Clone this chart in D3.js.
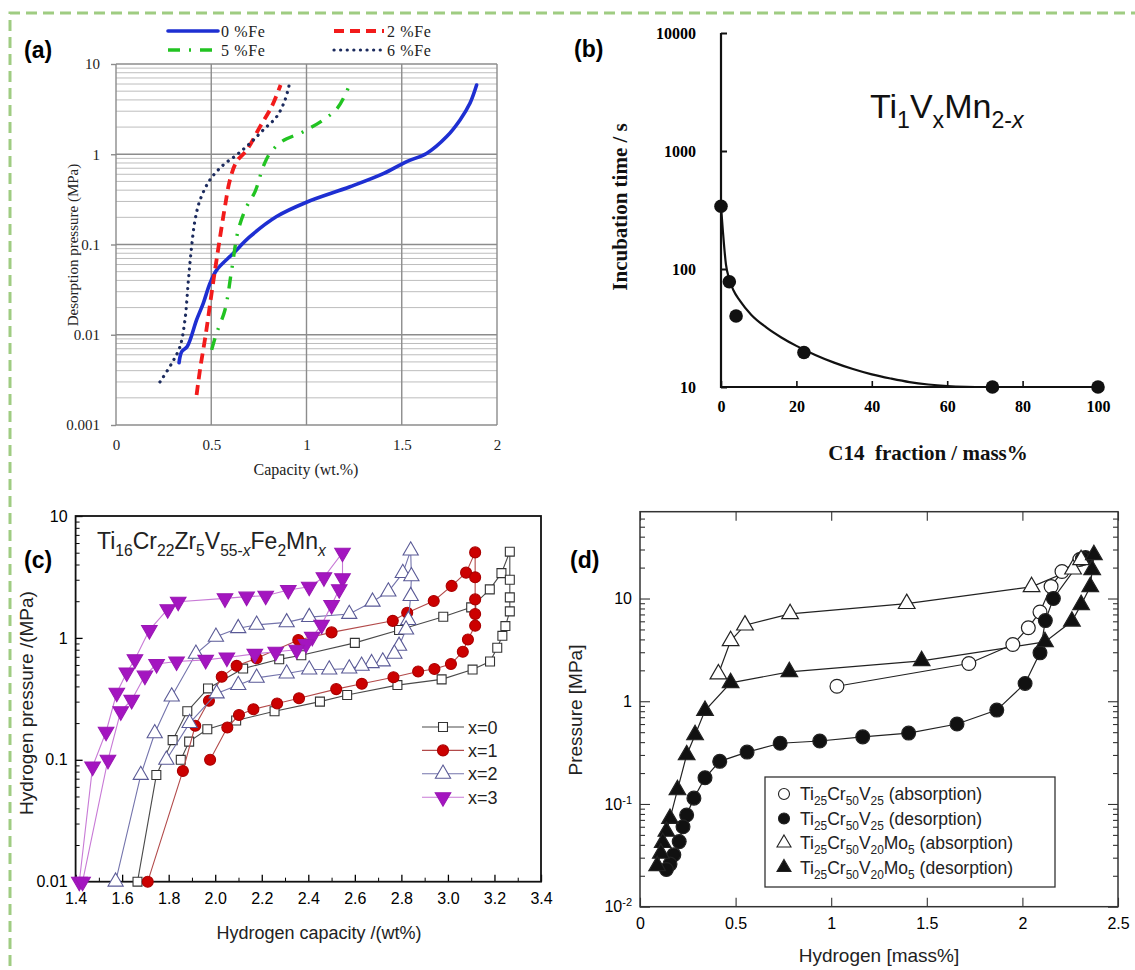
<html>
<head>
<meta charset="utf-8">
<script src="https://cdn.jsdelivr.net/npm/d3@7"></script>
<style>
  body { margin: 0; background: #fff; }
</style>
</head>
<body>
<script>
// ---------- (a) desorption curves vs Fe content ----------
const aNames = ['0 %Fe', '2 %Fe', '5 %Fe', '6 %Fe'];
const aXTicks = [0, 0.5, 1, 1.5, 2];
const aYTicks = [0.001, 0.01, 0.1, 1, 10];
const fe0 = [[0.331,0.0049],[0.345,0.0065],[0.374,0.0074],[0.423,0.0146],[0.458,0.0223],[0.493,0.037],
  [0.528,0.052],[0.616,0.080],[0.703,0.122],[0.843,0.204],[1.0,0.294],[1.228,0.436],[1.403,0.61],
  [1.526,0.83],[1.63,1.02],[1.736,1.57],[1.806,2.4],[1.858,3.67],[1.893,5.85]];
const fe2 = [[0.423,0.00215],[0.441,0.0041],[0.472,0.0104],[0.502,0.029],[0.528,0.068],[0.555,0.159],
  [0.572,0.263],[0.598,0.52],[0.633,0.83],[0.686,1.11],[0.756,2.02],[0.817,3.36],[0.864,5.85]];
const fe5 = [[0.502,0.0068],[0.528,0.0104],[0.572,0.0188],[0.607,0.052],[0.642,0.145],[0.686,0.263],
  [0.730,0.385],[0.773,0.73],[0.808,1.02],[0.869,1.38],[0.983,1.78],[1.088,2.4],[1.158,3.16],
  [1.202,4.5],[1.225,5.85]];
const fe6 = [[0.231,0.0030],[0.292,0.0048],[0.336,0.0074],[0.362,0.0146],[0.380,0.040],[0.397,0.095],
  [0.415,0.187],[0.441,0.31],[0.493,0.52],[0.563,0.76],[0.633,0.98],[0.703,1.32],[0.773,1.86],
  [0.843,2.6],[0.887,3.98],[0.909,5.85]];

// ---------- (b) incubation time ----------
const bXTicks = [0, 20, 40, 60, 80, 100];
const bYTicks = [10, 100, 1000, 10000];
const bPoints = [[0,340],[2.2,78],[4,40],[22,19.6],[72,10],[100,10]];
const bFit = [[0,340],[0.5,210],[1.3,110],[2.2,82],[3.3,66],[5,54],[8,41],[12,32],[16,26.3],[20,22.3],
  [25,18.7],[30,16.1],[35,14.2],[40,12.8],[45,11.8],[50,11.0],[55,10.5],[60,10.2],[65,10.05],[70,10],[100,10]];
const bFormula = [['Ti','n'],['1','s'],['V','n'],['x','s'],['Mn','n'],['2-','s'],['x','s','i']];

// ---------- (c) Ti16Cr22Zr5V55-xFe2Mnx ----------
const cNames = ['x=0', 'x=1', 'x=2', 'x=3'];
const cXTicks = [1.4, 1.6, 1.8, 2.0, 2.2, 2.4, 2.6, 2.8, 3.0, 3.2, 3.4];
const cYTicks = [0.01, 0.1, 1, 10];
const cX0 = [[1.666,0.01],[1.747,0.075],[1.817,0.145],[1.88,0.25],[1.969,0.385],[2.12,0.56],[2.275,0.667],
  [2.37,0.72],[2.6,0.91],[2.79,1.16],[2.98,1.49],[3.10,1.78],[3.18,2.5],[3.23,3.4],[3.266,5.1],
  [3.266,3.0],[3.266,2.15],[3.266,1.65],[3.247,1.25],[3.234,1.04],[3.212,0.83],[3.181,0.64],
  [3.106,0.55],[2.973,0.457],[2.783,0.41],[2.567,0.34],[2.45,0.30],[2.255,0.25],[2.09,0.21],
  [1.966,0.178],[1.888,0.141],[1.852,0.10]];
const cX1 = [[1.71,0.01],[1.861,0.081],[1.914,0.19],[1.973,0.305],[2.028,0.48],[2.092,0.59],[2.178,0.68],
  [2.357,0.96],[2.5,1.11],[2.763,1.38],[2.825,1.61],[2.939,2.01],[3.016,2.67],[3.078,3.43],[3.117,5.03],
  [3.117,3.14],[3.117,2.07],[3.117,1.57],[3.117,1.26],[3.086,0.97],[3.064,0.77],[3.013,0.61],
  [2.942,0.556],[2.872,0.53],[2.766,0.475],[2.63,0.42],[2.52,0.38],[2.36,0.32],[2.266,0.29],
  [2.164,0.26],[2.102,0.233],[2.052,0.184],[1.978,0.10]];
const cX2 = [[1.572,0.01],[1.68,0.075],[1.74,0.165],[1.813,0.33],[1.917,0.74],[2.003,1.02],[2.099,1.2],
  [2.178,1.28],[2.307,1.34],[2.404,1.48],[2.576,1.57],[2.676,1.98],[2.744,2.4],[2.806,3.4],[2.84,5.2],
  [2.843,3.2],[2.84,2.2],[2.83,1.4],[2.82,1.17],[2.79,0.86],[2.77,0.74],[2.72,0.64],[2.672,0.62],
  [2.629,0.59],[2.576,0.56],[2.49,0.55],[2.404,0.55],[2.307,0.51],[2.178,0.47],[2.099,0.41],
  [2.006,0.35],[1.89,0.2],[1.79,0.1]];
const cX3 = [[1.416,0.01],[1.473,0.088],[1.531,0.17],[1.577,0.355],[1.62,0.52],[1.655,0.667],[1.717,1.16],
  [1.796,1.72],[1.841,1.98],[2.042,2.11],[2.135,2.18],[2.217,2.22],[2.314,2.47],[2.404,2.63],[2.467,3.14],
  [2.547,5.0],[2.547,3.08],[2.533,2.51],[2.5,1.86],[2.457,1.28],[2.417,1.02],[2.39,0.89],[2.35,0.80],
  [2.26,0.77],[2.17,0.74],[2.05,0.69],[1.959,0.66],[1.834,0.64],[1.748,0.61],[1.698,0.49],[1.641,0.31],
  [1.594,0.25],[1.539,0.10],[1.43,0.01]];
const cFormula = [['Ti','n'],['16','s'],['Cr','n'],['22','s'],['Zr','n'],['5','s'],['V','n'],['55-','s'],
  ['x','s','i'],['Fe','n'],['2','s'],['Mn','n'],['x','s','i']];

// ---------- (d) Ti25Cr50V25 / Ti25Cr50V20Mo5 ----------
const dXTicks = [0, 0.5, 1, 1.5, 2, 2.5];
const dYTicks = [0.01, 0.1, 1, 10];
const dAbsTi = [[1.03,1.40],[1.72,2.33],[1.95,3.57],[2.031,5.2],[2.092,7.4],[2.15,13.1],[2.207,18.3],[2.30,24]];
const dDesTi = [[2.33,25],[2.314,24.5],[2.162,10],[2.12,6.1],[2.092,2.96],[2.014,1.49],[1.866,0.82],
  [1.658,0.60],[1.405,0.49],[1.165,0.45],[0.94,0.41],[0.733,0.39],[0.56,0.32],[0.417,0.26],[0.34,0.18],
  [0.282,0.114],[0.244,0.078],[0.225,0.06],[0.205,0.043],[0.177,0.032],[0.157,0.026],[0.138,0.023]];
const dAbsMo = [[0.41,1.84],[0.474,3.87],[0.549,5.5],[0.785,7.1],[1.395,8.9],[2.048,13],[2.265,19.3],[2.307,23.8]];
const dDesMo = [[2.374,26.6],[2.365,19],[2.355,13],[2.307,8.7],[2.259,6.0],[2.118,3.78],[1.473,2.47],
  [0.781,1.93],[0.474,1.51],[0.34,0.81],[0.288,0.47],[0.244,0.30],[0.196,0.137],[0.157,0.072],
  [0.138,0.054],[0.119,0.042],[0.109,0.033],[0.09,0.025]];
const dLegend = [
  [['Ti','n'],['25','s'],['Cr','n'],['50','s'],['V','n'],['25','s'],[' (absorption)','n']],
  [['Ti','n'],['25','s'],['Cr','n'],['50','s'],['V','n'],['25','s'],[' (desorption)','n']],
  [['Ti','n'],['25','s'],['Cr','n'],['50','s'],['V','n'],['20','s'],['Mo','n'],['5','s'],[' (absorption)','n']],
  [['Ti','n'],['25','s'],['Cr','n'],['50','s'],['V','n'],['20','s'],['Mo','n'],['5','s'],[' (desorption)','n']]
];

const SERIF = "'Liberation Serif','Times New Roman',serif";
const SANS = "'Liberation Sans',Arial,Helvetica,sans-serif";

const svg = d3.select('body').append('svg')
  .attr('width', 1135).attr('height', 970)
  .style('display', 'block');

// green dashed frame (top and left only)
svg.append('path').attr('d', 'M10,966V13H1135')
  .attr('fill', 'none').attr('stroke', '#9fcc82')
  .attr('stroke-width', 3).attr('stroke-dasharray', '11,6');

// text with sub/superscripts
function rich(g, x, y, parts, fs, anchor) {
  const t = g.append('text').attr('x', x).attr('y', y)
    .attr('font-size', fs).attr('text-anchor', anchor || 'start');
  let cur = 0;
  parts.forEach(p => {
    const s = p[1] === 's' ? fs * 0.3 : p[1] === 'p' ? -fs * 0.42 : 0;
    t.append('tspan').attr('dy', s - cur)
      .attr('font-size', p[1] === 'n' ? fs : fs * 0.68)
      .attr('font-style', p[2] === 'i' ? 'italic' : null)
      .text(p[0]);
    cur = s;
  });
  return t;
}

function panelLabel(txt, x, y) {
  svg.append('text').attr('x', x).attr('y', y)
    .attr('font-family', SANS).attr('font-weight', 'bold').attr('font-size', 23)
    .text(txt);
}

function symbolPath(type, size) {
  const t = {square: d3.symbolSquare, circle: d3.symbolCircle,
             tri: d3.symbolTriangle, tridown: d3.symbolTriangle}[type];
  return d3.symbol().type(t).size(size)();
}

function drawMarkers(g, data, x, y, type, size, fill, stroke, sw) {
  g.append('g').selectAll('path').data(data).join('path')
    .attr('d', symbolPath(type, size))
    .attr('transform', d => 'translate(' + x(d[0]) + ',' + y(d[1]) + ')' + (type === 'tridown' ? ' rotate(180)' : ''))
    .attr('fill', fill).attr('stroke', stroke).attr('stroke-width', sw);
}

// ===================== (a) =====================
function drawA() {
  const g = svg.append('g');
  const x = d3.scaleLinear().domain([0, 2]).range([116, 497]);
  const y = d3.scaleLog().domain([0.001, 10]).range([425, 64]);

  const minor = [];
  aYTicks.slice(0, -1).forEach(t => { for (let m = 2; m < 10; m++) minor.push(t * m); });
  g.append('g').selectAll('line').data(minor).join('line')
    .attr('x1', x(0)).attr('x2', x(2))
    .attr('y1', d => y(d)).attr('y2', d => y(d))
    .attr('stroke', '#bdbdbd').attr('stroke-width', 1);
  g.append('g').selectAll('line').data(aYTicks).join('line')
    .attr('x1', x(0)).attr('x2', x(2))
    .attr('y1', d => y(d)).attr('y2', d => y(d))
    .attr('stroke', '#8c8c8c').attr('stroke-width', 1.6);
  g.append('g').selectAll('line').data(aXTicks).join('line')
    .attr('x1', d => x(d)).attr('x2', d => x(d))
    .attr('y1', y(10)).attr('y2', y(0.001))
    .attr('stroke', '#8c8c8c').attr('stroke-width', 1.4);

  const yAx = g.append('g').attr('transform', 'translate(116,0)')
    .call(d3.axisLeft(y).tickValues(aYTicks).tickFormat(d => String(d)).tickSize(5).tickPadding(11));
  yAx.select('.domain').remove();
  yAx.selectAll('line').attr('stroke', '#8c8c8c').attr('stroke-width', 1.4);
  yAx.attr('font-family', SERIF).attr('font-size', 15);
  yAx.selectAll('text').attr('fill', '#222');

  const xAx = g.append('g').attr('transform', 'translate(0,425)')
    .call(d3.axisBottom(x).tickValues(aXTicks).tickFormat(d => String(d)).tickSize(0).tickPadding(14));
  xAx.select('.domain').remove();
  xAx.attr('font-family', SERIF).attr('font-size', 15);
  xAx.selectAll('text').attr('fill', '#222');

  g.append('text').attr('x', 306).attr('y', 475).attr('text-anchor', 'middle')
    .attr('font-family', SERIF).attr('font-size', 16).attr('fill', '#222')
    .text('Capacity (wt.%)');
  g.append('text').attr('transform', 'translate(78,245) rotate(-90)').attr('text-anchor', 'middle')
    .attr('font-family', SERIF).attr('font-size', 15).attr('fill', '#222')
    .text('Desorption pressure (MPa)');

  const styles = [
    {c: '#1e2fd2', w: 3.6, dash: null, cap: 'round'},
    {c: '#f21b1b', w: 3.8, dash: '10,6', cap: 'butt'},
    {c: '#22c322', w: 3.4, dash: '12,9,2,9', cap: 'butt'},
    {c: '#1c2b5e', w: 3.2, dash: '0.1,6.5', cap: 'round'}
  ];
  const line = d3.line().x(d => x(d[0])).y(d => y(d[1])).curve(d3.curveCatmullRom.alpha(0.5));
  [fe0, fe2, fe5, fe6].forEach((data, i) => {
    const s = styles[i];
    g.append('path').datum(data).attr('d', line)
      .attr('fill', 'none').attr('stroke', s.c).attr('stroke-width', s.w)
      .attr('stroke-dasharray', s.dash).attr('stroke-linecap', s.cap);
  });

  // legend, two columns x two rows
  const lx = [168, 334], ly = [31, 50];
  aNames.forEach((n, i) => {
    const s = styles[i];
    const X = lx[i % 2 === 0 ? 0 : 1], Y = ly[i < 2 ? 0 : 1];
    g.append('line').attr('x1', X).attr('x2', X + 50).attr('y1', Y).attr('y2', Y)
      .attr('stroke', s.c).attr('stroke-width', s.w)
      .attr('stroke-dasharray', s.dash).attr('stroke-linecap', s.cap);
    g.append('text').attr('x', X + 53).attr('y', Y + 5.5)
      .attr('font-family', SERIF).attr('font-size', 16).attr('letter-spacing', 0.6).attr('fill', '#222')
      .text(n);
  });
}

// ===================== (b) =====================
function drawB() {
  const g = svg.append('g');
  const x = d3.scaleLinear().domain([0, 100]).range([721, 1098]);
  const y = d3.scaleLog().domain([10, 10000]).range([387, 33]);

  g.append('path').attr('d', 'M721,33V387H1103')
    .attr('fill', 'none').attr('stroke', '#111').attr('stroke-width', 2.2);

  const yAx = g.append('g').attr('transform', 'translate(721,0)')
    .call(d3.axisLeft(y).tickValues(bYTicks).tickFormat(d3.format('d')).tickSize(-6).tickPadding(25));
  yAx.select('.domain').remove();
  yAx.selectAll('line').attr('stroke', '#111').attr('stroke-width', 2);
  yAx.attr('font-family', SERIF).attr('font-size', 16).attr('font-weight', 'bold');

  const xAx = g.append('g').attr('transform', 'translate(0,387)')
    .call(d3.axisBottom(x).tickValues(bXTicks).tickSize(-6).tickPadding(14));
  xAx.select('.domain').remove();
  xAx.selectAll('line').attr('stroke', '#111').attr('stroke-width', 1.6);
  xAx.attr('font-family', SERIF).attr('font-size', 16).attr('font-weight', 'bold');

  g.append('path').datum(bFit)
    .attr('d', d3.line().x(d => x(d[0])).y(d => y(d[1])).curve(d3.curveMonotoneX))
    .attr('fill', 'none').attr('stroke', '#111').attr('stroke-width', 2.2);
  g.append('g').selectAll('circle').data(bPoints).join('circle')
    .attr('cx', d => x(d[0])).attr('cy', d => y(d[1])).attr('r', 6.8).attr('fill', '#111');

  g.append('text').attr('x', 928).attr('y', 460).attr('text-anchor', 'middle')
    .attr('font-family', SERIF).attr('font-weight', 'bold').attr('font-size', 21).attr('fill', '#111')
    .attr('xml:space', 'preserve').text('C14  fraction / mass%');
  g.append('text').attr('transform', 'translate(627,207) rotate(-90)').attr('text-anchor', 'middle')
    .attr('font-family', SERIF).attr('font-weight', 'bold').attr('font-size', 21).attr('fill', '#111')
    .text('Incubation time / s');

  const f = rich(g, 870, 118, bFormula, 34);
  f.attr('font-family', SANS).attr('fill', '#111');
}

// ===================== (c) =====================
function drawC() {
  const g = svg.append('g');
  const x = d3.scaleLinear().domain([1.4, 3.4]).range([75.6, 541]);
  const y = d3.scaleLog().domain([0.01, 10]).range([881.7, 516]);

  const xMinor = cXTicks.slice(0, -1).map(t => +(t + 0.1).toFixed(1));
  const yMinor = [];
  cYTicks.slice(0, -1).forEach(t => { for (let m = 2; m < 10; m++) yMinor.push(t * m); });

  const fmt = d3.format('.1f');
  const xAx = g.append('g').attr('transform', 'translate(0,881.7)')
    .call(d3.axisBottom(x).tickValues(cXTicks).tickFormat(fmt).tickSize(-7).tickPadding(11));
  xAx.select('.domain').remove();
  xAx.attr('font-family', SANS).attr('font-size', 16);
  xAx.selectAll('line').attr('stroke-width', 1.3);
  const xm = g.append('g').attr('transform', 'translate(0,881.7)')
    .call(d3.axisBottom(x).tickValues(xMinor).tickFormat('').tickSize(-4));
  xm.select('.domain').remove();

  const yAx = g.append('g').attr('transform', 'translate(75.6,0)')
    .call(d3.axisLeft(y).tickValues(cYTicks).tickFormat(d => String(d)).tickSize(-7).tickPadding(8));
  yAx.select('.domain').remove();
  yAx.attr('font-family', SANS).attr('font-size', 16);
  yAx.selectAll('line').attr('stroke-width', 1.3);
  const ym = g.append('g').attr('transform', 'translate(75.6,0)')
    .call(d3.axisLeft(y).tickValues(yMinor).tickFormat('').tickSize(-4));
  ym.select('.domain').remove();

  g.append('rect').attr('x', 75.6).attr('y', 516).attr('width', 541 - 75.6).attr('height', 881.7 - 516)
    .attr('fill', 'none').attr('stroke', '#111').attr('stroke-width', 1.8);

  const styles = [
    {line: '#4a4a4a', type: 'square', size: 80, fill: '#fff', stroke: '#333'},
    {line: '#b24a4a', type: 'circle', size: 95, fill: '#cc0000', stroke: '#aa0000'},
    {line: '#7474ac', type: 'tri', size: 100, fill: '#fff', stroke: '#5a5a96'},
    {line: '#c87ad6', type: 'tridown', size: 105, fill: '#a415c0', stroke: '#9a18b4'}
  ];
  const line = d3.line().x(d => x(d[0])).y(d => y(d[1]));
  [cX0, cX1, cX2, cX3].forEach((data, i) => {
    const s = styles[i];
    g.append('path').datum(data).attr('d', line)
      .attr('fill', 'none').attr('stroke', s.line).attr('stroke-width', 1.1);
    drawMarkers(g, data, x, y, s.type, s.size, s.fill, s.stroke, 1.1);
  });

  // legend
  cNames.forEach((n, i) => {
    const s = styles[i];
    const Y = 727 + i * 23.4;
    g.append('line').attr('x1', 422).attr('x2', 464).attr('y1', Y).attr('y2', Y)
      .attr('stroke', s.line).attr('stroke-width', 1.1);
    g.append('path').attr('d', symbolPath(s.type, s.size))
      .attr('transform', 'translate(443,' + Y + ')' + (s.type === 'tridown' ? ' rotate(180)' : ''))
      .attr('fill', s.fill).attr('stroke', s.stroke).attr('stroke-width', 1.1);
    g.append('text').attr('x', 468).attr('y', Y + 6.5)
      .attr('font-family', SANS).attr('font-size', 18).attr('fill', '#222').text(n);
  });

  const f = rich(g, 97, 549, cFormula, 23);
  f.attr('font-family', SANS).attr('fill', '#222');

  g.append('text').attr('x', 319).attr('y', 939).attr('text-anchor', 'middle')
    .attr('font-family', SANS).attr('font-size', 18).attr('fill', '#222')
    .text('Hydrogen capacity /(wt%)');
  g.append('text').attr('transform', 'translate(33,703) rotate(-90)').attr('text-anchor', 'middle')
    .attr('font-family', SANS).attr('font-size', 19).attr('fill', '#222')
    .text('Hydrogen pressure /(MPa)');
}

// ===================== (d) =====================
function drawD() {
  const g = svg.append('g');
  const L = 640, R = 1118, T = 511.7, B = 906.7;
  const x = d3.scaleLinear().domain([0, 2.5]).range([L, R]);
  const y = d3.scaleLog().domain([0.01, 70]).range([B, T]);

  const yMinor = [];
  dYTicks.forEach(t => { for (let m = 2; m < 10; m++) if (t * m < 70) yMinor.push(t * m); });

  const xAx = g.append('g').attr('transform', 'translate(0,' + B + ')')
    .call(d3.axisBottom(x).tickValues(dXTicks).tickFormat(d => String(d)).tickSize(-9).tickPadding(11));
  xAx.select('.domain').remove();
  xAx.attr('font-family', SANS).attr('font-size', 16);
  const xTop = g.append('g').attr('transform', 'translate(0,' + T + ')')
    .call(d3.axisTop(x).tickValues(dXTicks).tickFormat('').tickSize(-9));
  xTop.select('.domain').remove();

  const yAx = g.append('g').attr('transform', 'translate(' + L + ',0)')
    .call(d3.axisLeft(y).tickValues(dYTicks).tickSize(-10).tickPadding(8).tickFormat(d => d >= 1 ? String(d) : ''));
  yAx.select('.domain').remove();
  yAx.attr('font-family', SANS).attr('font-size', 16);
  yAx.selectAll('.tick text').each(function(d) {
    if (d < 1) {
      const t = d3.select(this);
      t.append('tspan').text('10');
      t.append('tspan').attr('dy', '-0.55em').attr('font-size', 11).text(d === 0.1 ? '-1' : '-2');
    }
  });
  const ym = g.append('g').attr('transform', 'translate(' + L + ',0)')
    .call(d3.axisLeft(y).tickValues(yMinor).tickFormat('').tickSize(-5));
  ym.select('.domain').remove();
  const yR = g.append('g').attr('transform', 'translate(' + R + ',0)')
    .call(d3.axisRight(y).tickValues(dYTicks).tickFormat('').tickSize(-10));
  yR.select('.domain').remove();
  const yRm = g.append('g').attr('transform', 'translate(' + R + ',0)')
    .call(d3.axisRight(y).tickValues(yMinor).tickFormat('').tickSize(-5));
  yRm.select('.domain').remove();
  g.selectAll('.tick line').attr('stroke', '#333').attr('stroke-width', 1.1);

  g.append('rect').attr('x', L).attr('y', T).attr('width', R - L).attr('height', B - T)
    .attr('fill', 'none').attr('stroke', '#333').attr('stroke-width', 1.5);

  const line = d3.line().x(d => x(d[0])).y(d => y(d[1]));
  const series = [
    {data: dAbsTi, type: 'circle', size: 150, fill: '#fff'},
    {data: dDesTi, type: 'circle', size: 150, fill: '#111'},
    {data: dAbsMo, type: 'tri', size: 120, fill: '#fff'},
    {data: dDesMo, type: 'tri', size: 120, fill: '#111'}
  ];
  series.forEach(s => {
    g.append('path').datum(s.data).attr('d', line)
      .attr('fill', 'none').attr('stroke', '#222').attr('stroke-width', 1.2);
  });
  series.forEach(s => {
    drawMarkers(g, s.data, x, y, s.type, s.size, s.fill, '#222', 1.2);
  });

  // legend box
  const bx = 765, by = 777, bw = 290, bh = 110;
  g.append('rect').attr('x', bx).attr('y', by).attr('width', bw).attr('height', bh)
    .attr('fill', '#fff').attr('stroke', '#333').attr('stroke-width', 1.3);
  dLegend.forEach((parts, i) => {
    const s = series[i];
    const Y = 794 + i * 24.5;
    g.append('path').attr('d', symbolPath(s.type, s.type === 'circle' ? 95 : 85))
      .attr('transform', 'translate(784,' + Y + ')')
      .attr('fill', s.fill).attr('stroke', '#222').attr('stroke-width', 1.1);
    const t = rich(g, 800, Y + 6, parts, 17.5);
    t.attr('font-family', SANS).attr('fill', '#222');
  });

  g.append('text').attr('x', 879).attr('y', 962).attr('text-anchor', 'middle')
    .attr('font-family', SANS).attr('font-size', 19).attr('fill', '#222')
    .text('Hydrogen [mass%]');
  g.append('text').attr('transform', 'translate(582,710) rotate(-90)').attr('text-anchor', 'middle')
    .attr('font-family', SANS).attr('font-size', 19).attr('fill', '#222')
    .text('Pressure [MPa]');
}

drawA();
drawB();
drawC();
drawD();

panelLabel('(a)', 24, 58);
panelLabel('(b)', 574, 57);
panelLabel('(c)', 24, 568);
panelLabel('(d)', 570, 568);
</script>
</body>
</html>
